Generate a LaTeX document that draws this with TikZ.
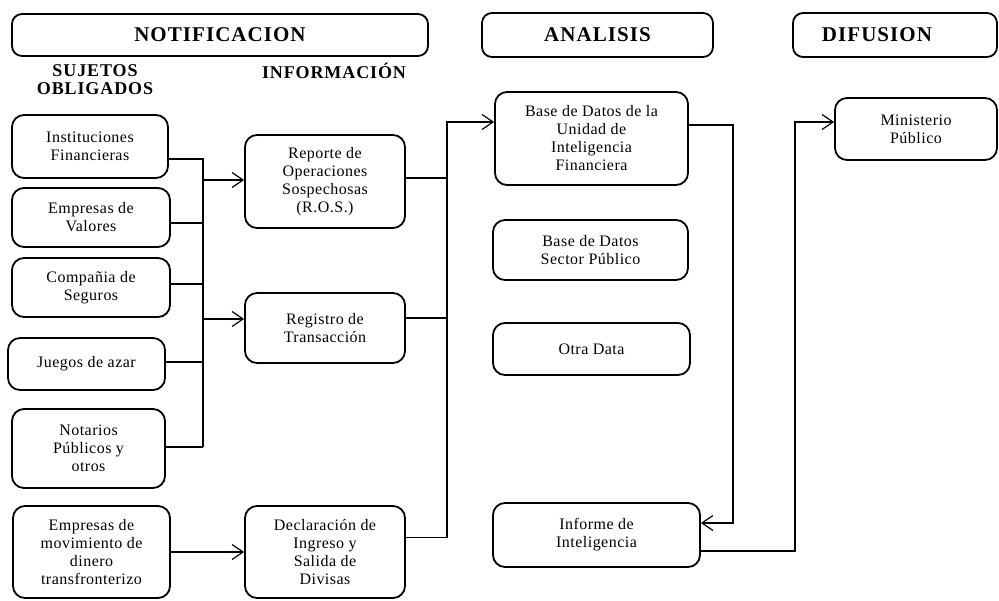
\documentclass[tikz,border=0pt]{standalone}
\usepackage{fontspec}
\newfontfamily\bodyfont{Liberation Serif}[LetterSpace=3]
\newfontfamily\headfont{Liberation Serif}[LetterSpace=5]
\usetikzlibrary{arrows.meta}
\begin{document}
\begin{tikzpicture}[x=1pt,y=-1pt,
  box/.style={draw, line width=1.8pt, rounded corners=12pt, align=center, inner sep=2pt,
    font=\bodyfont\fontsize{16}{18}\selectfont},
  hbox/.style={draw, line width=1.8pt, rounded corners=10pt, align=center, inner sep=0pt,
    font=\headfont\bfseries\fontsize{21}{24}\selectfont},
  htext/.style={align=center, inner sep=0pt, font=\headfont\bfseries\fontsize{21}{24}\selectfont},
  sub/.style={align=center, inner sep=0pt, font=\headfont\bfseries\fontsize{18}{18}\selectfont},
  conn/.style={line width=1.2pt},
  arr/.style={conn, -{Straight Barb[length=11pt,width=15pt,line width=1.2pt]}},
]
\useasboundingbox (0,0) rectangle (999,600);

% headers
\node[hbox, minimum width=416pt, minimum height=42pt] (nh) at (220,35) {NOTIFICACION};
\node[hbox, minimum width=231pt, minimum height=44pt] (ah) at (597.5,35) {ANALISIS};
\node[hbox, minimum width=204pt, minimum height=44pt] (dh) at (895,35) {};
\node[htext] (dl) at (877,35) {DIFUSION};
\node[sub] (suj) at (95,80) {SUJETOS\\OBLIGADOS};
\node[sub] (infh) at (334,71) {INFORMACIÓN};

% sujetos obligados
\node[box, minimum width=156pt, minimum height=63pt] (inst) at (90,146.5) {Instituciones\\Financieras};
\node[box, minimum width=158pt, minimum height=59pt] (emp) at (91,217.5) {Empresas de\\Valores};
\node[box, minimum width=158pt, minimum height=59pt] (comp) at (91,287.5) {Compañia de\\Seguros};
\node[box, minimum width=157pt, minimum height=52pt] (jue) at (86.5,364) {Juegos de azar};
\node[box, minimum width=153pt, minimum height=79pt] (not) at (88.5,448.5) {Notarios\\Públicos y\\otros};
\node[box, minimum width=157pt, minimum height=92pt] (mov) at (91.5,552) {Empresas de\\movimiento de\\dinero\\transfronterizo};

% informacion
\node[box, minimum width=160pt, minimum height=93pt] (ros) at (325,181.5) {Reporte de\\Operaciones\\Sospechosas\\(R.O.S.)};
\node[box, minimum width=160pt, minimum height=70pt] (reg) at (325,328) {Registro de\\Transacción};
\node[box, minimum width=160pt, minimum height=92pt] (decl) at (325,552) {Declaración de\\Ingreso y\\Salida de\\Divisas};

% analisis
\node[box, minimum width=193pt, minimum height=93pt] (uif) at (591.5,138.5) {Base de Datos de la\\Unidad de\\Inteligencia\\Financiera};
\node[box, minimum width=195pt, minimum height=60pt] (bsp) at (590.5,250) {Base de Datos\\Sector Público};
\node[box, minimum width=197pt, minimum height=52pt] (otra) at (591.5,349) {Otra Data};
\node[box, minimum width=207pt, minimum height=64pt] (inf) at (596.5,535) {Informe de\\Inteligencia};

% difusion
\node[box, minimum width=162pt, minimum height=62pt] (min) at (916,129) {Ministerio\\Público};

% bus coordinates
\coordinate (lbB) at (203,447);
\coordinate (rb) at (447,300);
\coordinate (c3) at (733,300);
\coordinate (c4) at (795,300);

% left bus
\draw[conn] ([yshift=-12.5pt]inst.east) -| (lbB);
\draw[conn] ([yshift=-5.5pt]emp.east) -| (lbB);
\draw[conn] ([yshift=3.5pt]comp.east) -| (lbB);
\draw[conn] ([yshift=2pt]jue.east) -| (lbB);
\draw[conn] ([yshift=1.5pt]not.east) -| (lbB);
\draw[arr] (lbB) |- ([yshift=1.5pt]ros.west);
\draw[arr] (lbB) |- ([yshift=9pt]reg.west);

% bottom
\draw[arr] (mov.east) -- (mov.east -| decl.west);

% right bus
\draw[arr] ([yshift=14.5pt]decl.east) -| (rb) |- ([yshift=16.5pt]uif.west);
\draw[conn] ([yshift=3.5pt]ros.east) -| (rb);
\draw[conn] ([yshift=10pt]reg.east) -| (rb);

% analysis to informe and difusion
\draw[arr] ([yshift=13.5pt]uif.east) -| (c3) |- ([yshift=12pt]inf.east);
\draw[arr] ([yshift=-16pt]inf.east) -| (c4) |- ([yshift=7pt]min.west);
\end{tikzpicture}
\end{document}
